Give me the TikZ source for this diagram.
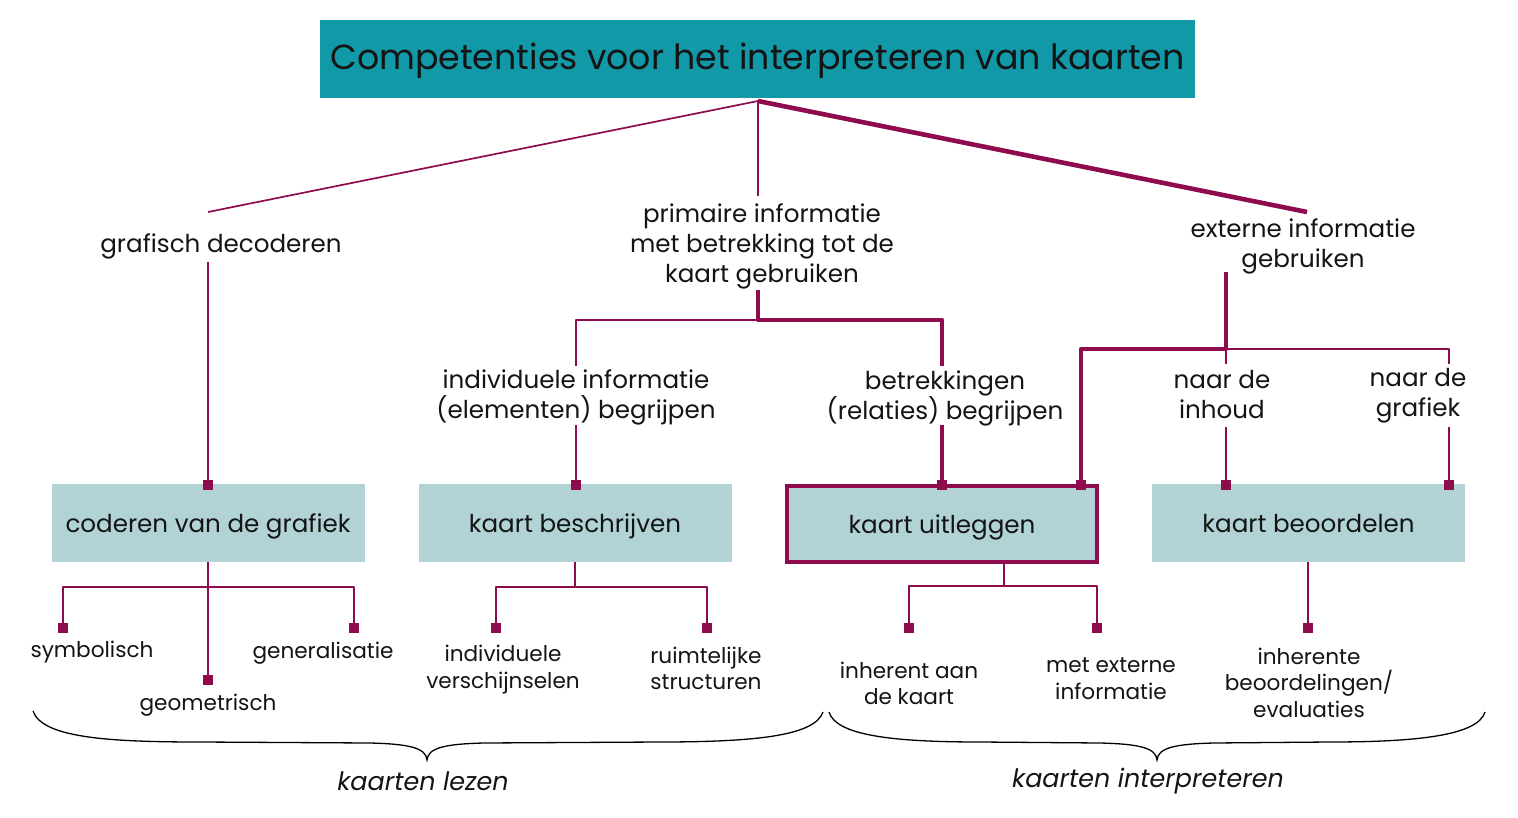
\documentclass[tikz,border=0pt]{standalone}
\usepackage{fontspec}
\setmainfont{Poppins}
\definecolor{mar}{HTML}{8E0C4E}
\definecolor{teal}{HTML}{1199A8}
\definecolor{lightbox}{HTML}{B1D3D6}
\newcommand{\labfont}{\fontsize{24.6}{30}\selectfont}
\newcommand{\smallfont}{\fontsize{21.6}{26.5}\selectfont}
\newcommand{\titlefont}{\fontsize{34.8}{40}\selectfont}
\newcommand{\bracetxt}{\fontsize{25.4}{30}\selectfont\itshape}
\begin{document}
\begin{tikzpicture}[x=1pt,y=-1pt,
  thinln/.style={draw=mar, line width=1.7pt, line join=round},
  thickln/.style={draw=mar, line width=4.6pt, line join=round},
  lab/.style={font=\labfont, align=center, inner sep=0pt, text=black!92},
  sml/.style={font=\smallfont, align=center, inner sep=0pt, text=black!92},
  mk/.style={fill=mar, minimum size=10pt, inner sep=0pt},
  boxn/.style={fill=lightbox, minimum width=313pt, minimum height=78pt, inner sep=0pt, font=\labfont, text=black!92, text height=24pt, text depth=5pt},
  bracefont/.style={font=\bracetxt, inner sep=0pt, text=black!92}]
\useasboundingbox (0,0) rectangle (1518,818);
% title
\node[fill=teal, minimum width=875pt, minimum height=78pt, inner sep=0pt, font=\titlefont, text=black!92, text height=27pt, text depth=6pt] (title) at (757.5,59) {Competenties voor het interpreteren van kaarten};
\coordinate (root) at (758,101);
% level 1 labels
\node[lab] (graf) at (221,246.5) {grafisch decoderen};
\node[lab] (prim) at (762,246.5) {primaire informatie\\met betrekking tot de\\kaart gebruiken};
\node[lab] (ext) at (1303,246) {externe informatie\\gebruiken};
\coordinate (grafT) at (208,212);
\coordinate (primT) at (758,196);
\coordinate (extT) at (1307,212);
\draw[thinln] (root) -- (grafT);
\draw[thinln] (root) -- (primT);
\draw[thickln] (root) -- (extT);
% level 2 labels
\node[lab] (indiv) at (576,397) {individuele informatie\\(elementen) begrijpen};
\node[lab] (betr) at (945,398) {betrekkingen\\(relaties) begrijpen};
\node[lab] (inh) at (1222,395) {naar de\\inhoud};
\node[lab] (grk) at (1418,396) {naar de\\grafiek};
% boxes
\node[boxn] (cod) at (208,523) {coderen van de grafiek};
\node[boxn] (besch) at (575,523) {kaart beschrijven};
\node[boxn, draw=mar, line width=4pt, minimum width=310pt, minimum height=76pt] (uitl) at (942,523.5) {kaart uitleggen};
\node[boxn] (beoor) at (1308.5,523) {kaart beoordelen};
% markers on boxes
\node[mk] (m1) at (208,485) {};
\node[mk] (m2) at (576,485) {};
\node[mk] (m3) at (942,485) {};
\node[mk] (m4) at (1081,485) {};
\node[mk] (m5) at (1226,485) {};
\node[mk] (m6) at (1449,485) {};
% grafisch -> coderen
\coordinate (grafB) at (208,262);
\draw[thinln] (grafB) -- (m1.center);
% primaire branches
\coordinate (primB) at (758,290);
\coordinate (primJ) at (758,320);
\coordinate (indivT) at (576,366);
\coordinate (betrT) at (942,366);
\draw[thinln] (primJ) -| (indivT);
\draw[thickln] (primB) -- (primJ) -| (betrT);
\coordinate (indivB) at (576,425);
\coordinate (betrB) at (942,425);
\draw[thinln] (indivB) -- (m2.center);
\draw[thickln] (betrB) -- (m3.center);
% externe branches
\coordinate (extB) at (1226,272);
\coordinate (extJ) at (1226,349);
\coordinate (inhT) at (1226,364);
\coordinate (grkT) at (1449,364);
\draw[thinln] (extJ) -- (inhT);
\draw[thinln] (extJ) -| (grkT);
\draw[thickln] (extB) -- (extJ) -| (m4.center);
\coordinate (inhB) at (1226,427);
\coordinate (grkB) at (1449,427);
\draw[thinln] (inhB) -- (m5.center);
\draw[thinln] (grkB) -- (m6.center);
% level 4 markers
\node[mk] (s1) at (63,628) {};
\node[mk] (s2) at (208,680) {};
\node[mk] (s3) at (354,628) {};
\node[mk] (s4) at (496,628) {};
\node[mk] (s5) at (707,628) {};
\node[mk] (s6) at (909,628) {};
\node[mk] (s7) at (1097,628) {};
\node[mk] (s8) at (1308,628) {};
% level 4 labels
\node[sml] (sym) at (92,652.5) {symbolisch};
\node[sml] (geo) at (208,705.5) {geometrisch};
\node[sml] (gen) at (323,653.5) {generalisatie};
\node[sml] (iv) at (503,669.5) {individuele\\verschijnselen};
\node[sml] (rs) at (706,668.5) {ruimtelijke\\structuren};
\node[sml] (ik) at (909,683.5) {inherent aan\\de kaart};
\node[sml] (mei) at (1111,678.5) {met externe\\informatie};
\node[sml] (ibe) at (1309,682.5) {inherente\\beoordelingen/\\evaluaties};
% box -> sub
\coordinate (codJ) at (208,587);
\draw[thinln] (cod.south) -- (s2.center);
\draw[thinln] (s1.center) |- (codJ) -| (s3.center);
\coordinate (beschJ) at (575,587);
\draw[thinln] (besch.south) -- (beschJ);
\draw[thinln] (s4.center) |- (beschJ) -| (s5.center);
\coordinate (uitlJ) at (1004,586);
\coordinate (uitlB) at (1004,563);
\draw[thinln] (uitlB) -- (uitlJ);
\draw[thinln] (s6.center) |- (uitlJ) -| (s7.center);
\draw[thinln] (beoor.south -| s8) -- (s8.center);
% braces
\coordinate (b1a) at (33,711);
\coordinate (b1t) at (427,760);
\coordinate (b1b) at (823,712);
\draw[line width=1.3pt] (b1a) .. controls (42,738) and (110,742) .. (200,742) -- (370,743) .. controls (410,744) and (426,748) .. (b1t)
  .. controls (428,748) and (444,744) .. (484,743) -- (660,742) .. controls (760,742) and (815,735) .. (b1b);
\coordinate (b2a) at (829,712);
\coordinate (b2t) at (1157,760);
\coordinate (b2b) at (1485,712);
\draw[line width=1.3pt] (b2a) .. controls (836,735) and (890,742) .. (980,742) -- (1100,743) .. controls (1140,744) and (1156,748) .. (b2t)
  .. controls (1158,748) and (1174,744) .. (1214,743) -- (1330,742) .. controls (1420,742) and (1478,735) .. (b2b);
\node[bracefont] (lezen) at (423,781) {kaarten lezen};
\node[bracefont] (interp) at (1148,781) {kaarten interpreteren};
\end{tikzpicture}
\end{document}
